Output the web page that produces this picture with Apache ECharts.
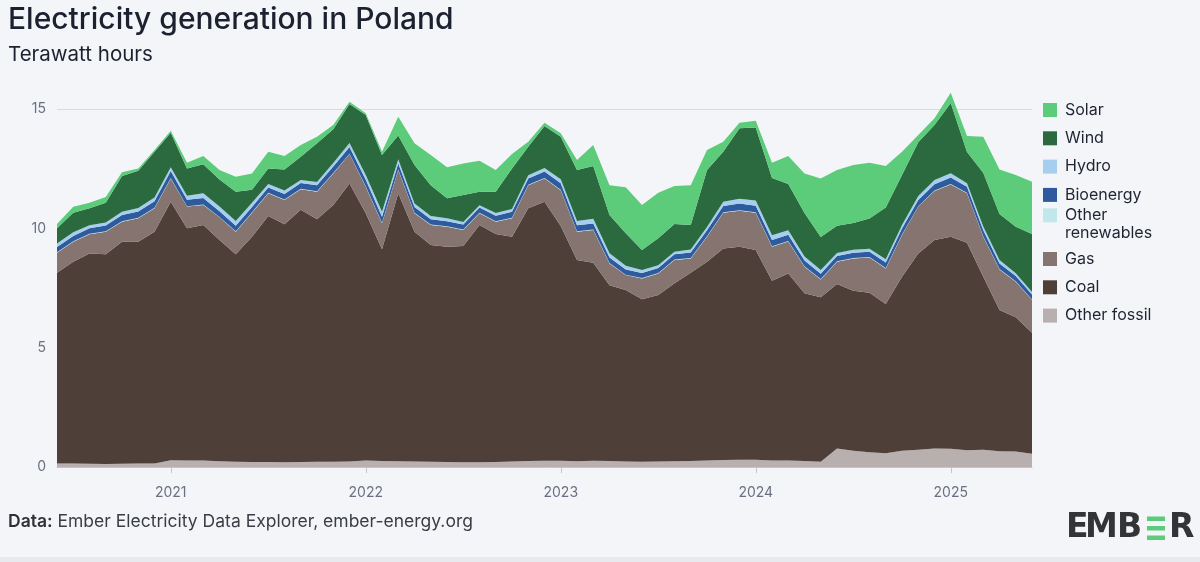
<!DOCTYPE html>
<html>
<head>
<meta charset="utf-8">
<script src="https://cdn.jsdelivr.net/npm/echarts@6/dist/echarts.min.js"></script>
<style>
  html, body { margin: 0; padding: 0; background: #f4f5f9; }
  #chart { width: 1200px; height: 562px; }
</style>
</head>
<body>
<div id="chart"></div>
<script>
// months, Jun 2020 .. Jun 2025
var months = [
  "2020-06","2020-07","2020-08","2020-09","2020-10","2020-11","2020-12",
  "2021-01","2021-02","2021-03","2021-04","2021-05","2021-06","2021-07","2021-08","2021-09","2021-10","2021-11","2021-12",
  "2022-01","2022-02","2022-03","2022-04","2022-05","2022-06","2022-07","2022-08","2022-09","2022-10","2022-11","2022-12",
  "2023-01","2023-02","2023-03","2023-04","2023-05","2023-06","2023-07","2023-08","2023-09","2023-10","2023-11","2023-12",
  "2024-01","2024-02","2024-03","2024-04","2024-05","2024-06","2024-07","2024-08","2024-09","2024-10","2024-11","2024-12",
  "2025-01","2025-02","2025-03","2025-04","2025-05","2025-06"
];

// TWh per month
var otherFossil = [0.15,0.15,0.14,0.13,0.14,0.15,0.15,
  0.28,0.27,0.27,0.24,0.22,0.21,0.21,0.20,0.21,0.22,0.22,0.23,
  0.27,0.25,0.24,0.23,0.22,0.21,0.20,0.20,0.21,0.23,0.25,0.26,
  0.26,0.24,0.26,0.25,0.23,0.22,0.23,0.24,0.25,0.27,0.29,0.30,
  0.30,0.27,0.27,0.25,0.22,0.78,0.68,0.62,0.58,0.68,0.72,0.78,
  0.76,0.70,0.72,0.66,0.65,0.55];
var coal = [7.99,8.45,8.81,8.78,9.30,9.29,9.71,
  10.83,9.73,9.87,9.27,8.69,9.44,10.31,9.97,10.57,10.16,10.76,11.65,
  10.36,8.87,11.23,9.63,9.08,9.02,9.06,9.94,9.55,9.42,10.59,10.85,
  9.84,8.43,8.30,7.37,7.19,6.81,6.98,7.46,7.89,8.33,8.87,8.93,
  8.79,7.53,7.84,7.03,6.89,6.89,6.71,6.68,6.25,7.29,8.23,8.73,
  8.89,8.70,7.25,5.92,5.62,5.08];
var gas = [0.84,0.84,0.80,0.95,0.84,0.98,0.98,
  0.98,0.91,0.84,0.95,0.95,1.00,0.95,1.02,0.86,1.15,1.32,1.23,
  1.11,1.09,0.97,0.77,0.84,0.84,0.67,0.49,0.52,0.77,0.97,0.98,
  1.50,1.19,1.37,0.91,0.62,0.87,0.90,0.97,0.60,1.05,1.49,1.51,
  1.56,1.43,1.34,1.11,0.75,0.93,1.35,1.48,1.49,1.75,1.96,2.05,
  2.19,2.07,1.68,1.70,1.49,1.37];
var otherRenewables = [0.02,0.02,0.02,0.02,0.02,0.02,0.02,
  0.02,0.02,0.02,0.02,0.02,0.02,0.02,0.02,0.02,0.02,0.02,0.02,
  0.02,0.02,0.02,0.02,0.02,0.02,0.02,0.02,0.02,0.02,0.02,0.02,
  0.02,0.02,0.02,0.02,0.02,0.02,0.02,0.02,0.02,0.02,0.02,0.02,
  0.02,0.02,0.02,0.02,0.02,0.02,0.02,0.02,0.02,0.02,0.02,0.02,
  0.02,0.02,0.02,0.02,0.02,0.02];
var bioenergy = [0.22,0.22,0.23,0.24,0.26,0.27,0.28,
  0.29,0.27,0.27,0.24,0.23,0.22,0.22,0.23,0.24,0.26,0.27,0.28,
  0.28,0.26,0.26,0.24,0.22,0.21,0.21,0.22,0.23,0.25,0.26,0.27,
  0.27,0.25,0.25,0.23,0.21,0.21,0.21,0.22,0.23,0.25,0.27,0.28,
  0.28,0.26,0.26,0.24,0.22,0.22,0.22,0.22,0.23,0.25,0.26,0.27,
  0.27,0.25,0.25,0.23,0.22,0.21];
var hydro = [0.14,0.16,0.13,0.12,0.13,0.14,0.15,
  0.16,0.17,0.20,0.19,0.20,0.18,0.15,0.14,0.13,0.13,0.15,0.17,
  0.19,0.20,0.17,0.15,0.14,0.12,0.11,0.10,0.11,0.12,0.13,0.15,
  0.17,0.18,0.20,0.18,0.16,0.12,0.11,0.11,0.12,0.14,0.17,0.20,
  0.22,0.20,0.19,0.17,0.15,0.13,0.12,0.12,0.13,0.15,0.16,0.18,
  0.18,0.15,0.16,0.14,0.12,0.10];
var wind = [0.64,0.81,0.71,0.83,1.50,1.56,1.92,
  1.44,1.14,1.22,1.14,1.22,0.55,0.65,0.89,0.97,1.62,1.41,1.63,
  2.52,2.38,1.00,1.61,1.29,0.84,1.13,0.56,0.89,1.70,1.20,1.76,
  1.78,2.13,2.21,1.60,1.36,0.84,1.13,1.16,1.03,2.38,2.10,2.95,
  3.06,2.40,1.94,1.82,1.39,1.14,1.12,1.27,2.17,2.09,2.26,2.30,
  2.94,1.31,2.25,1.93,1.95,2.43];
var solar = [0.18,0.25,0.23,0.24,0.16,0.10,0.07,
  0.09,0.24,0.34,0.39,0.63,0.68,0.70,0.56,0.49,0.28,0.18,0.09,
  0.07,0.14,0.79,0.91,1.26,1.30,1.32,1.30,0.91,0.60,0.21,0.13,
  0.14,0.42,0.88,1.25,1.93,1.89,1.91,1.59,1.67,0.84,0.42,0.23,
  0.28,0.64,1.17,1.66,2.45,2.33,2.43,2.34,1.74,0.98,0.30,0.28,
  0.43,0.67,1.51,1.87,2.16,2.19];

var yTicks = [0, 5, 10, 15];

var font = "Inter, 'Noto Sans', sans-serif";
var logoFont = "'DejaVu Sans', sans-serif";
var myChart = echarts.init(document.getElementById("chart"));

// stack from bottom to top
var layers = [
  { name: "Other fossil", data: otherFossil, color: "#b8b0ae" },
  { name: "Coal", data: coal, color: "#4f3f39" },
  { name: "Gas", data: gas, color: "#85746f" },
  { name: "Other renewables", data: otherRenewables, color: "#c2e7ea" },
  { name: "Bioenergy", data: bioenergy, color: "#2d5b9e" },
  { name: "Hydro", data: hydro, color: "#a6ceef" },
  { name: "Wind", data: wind, color: "#2b6a3f" },
  { name: "Solar", data: solar, color: "#5ccb7a" }
];

var series = layers.map(function (l) {
  return {
    name: l.name,
    type: "line",
    stack: "total",
    data: l.data,
    showSymbol: false,
    clip: false,
    lineStyle: { width: 0 },
    areaStyle: { color: l.color, opacity: 1 },
    itemStyle: { color: l.color },
    emphasis: { disabled: true }
  };
});

var isJan = function (idx, val) { return val.slice(5) === "01"; };

var legendText = { fontFamily: font, fontSize: 16, color: "#1f2430", lineHeight: 14, padding: [0, 0, 0, 3] };
var legendBase = {
  orient: "vertical",
  left: 1043,
  padding: 0,
  itemWidth: 14,
  itemHeight: 14,
  itemGap: 12.3,
  icon: "rect",
  selectedMode: false,
  textStyle: legendText
};

// one letter of the logo
function logoLetter(ch, x) {
  return {
    type: "text", x: x, y: 13,
    style: { text: ch, fontFamily: logoFont, fontSize: 33, fontWeight: 700, fill: "#333438", verticalAlign: "middle" }
  };
}

var option = {
  backgroundColor: "#f4f5f9",
  animation: false,
  title: [
    {
      text: "Electricity generation in Poland",
      left: 3, top: 0,
      textStyle: { fontFamily: font, fontSize: 30, fontWeight: 500, color: "#1c2130" }
    },
    {
      text: "Terawatt hours",
      left: 3, top: 39,
      textStyle: { fontFamily: font, fontSize: 20.5, fontWeight: 400, color: "#1c2130" }
    }
  ],
  legend: [
    Object.assign({}, legendBase, { top: 102, data: ["Solar", "Wind", "Hydro", "Bioenergy"] }),
    // second line of this entry is drawn as a graphic text below
    Object.assign({}, legendBase, {
      top: 207.3,
      data: ["Other renewables"],
      formatter: function () { return "Other"; }
    }),
    Object.assign({}, legendBase, { top: 251, data: ["Gas", "Coal", "Other fossil"] })
  ],
  grid: { left: 57, right: 168, top: 109, bottom: 95 },
  xAxis: {
    type: "category",
    boundaryGap: false,
    data: months,
    axisLine: { lineStyle: { color: "#c3c6cc", width: 1 } },
    axisTick: { show: true, interval: isJan, length: 6, lineStyle: { color: "#c3c6cc" } },
    axisLabel: {
      interval: isJan,
      formatter: function (v) { return v.slice(0, 4); },
      margin: 19,
      fontFamily: font, fontSize: 14, color: "#6b7080"
    },
    splitLine: { show: false }
  },
  yAxis: {
    type: "value",
    min: yTicks[0],
    max: yTicks[yTicks.length - 1],
    interval: 5,
    axisLine: { show: false },
    axisTick: { show: false },
    axisLabel: { margin: 11, fontFamily: font, fontSize: 14, color: "#6b7080" },
    splitLine: { lineStyle: { color: "#d8dbe2", width: 1 } }
  },
  graphic: [
    {
      type: "text", left: 1065, top: 225,
      style: { text: "renewables", fontFamily: font, fontSize: 16, fill: "#1f2430" }
    },
    {
      type: "text", left: 8, top: 513,
      style: {
        text: "{b|Data:} Ember Electricity Data Explorer, ember-energy.org",
        fontFamily: font, fontSize: 17.5, fill: "#3a3d46",
        rich: { b: { fontFamily: font, fontSize: 17.5, fontWeight: 600, fill: "#2e3038" } }
      }
    },
    {
      type: "group", left: 1066, top: 512,
      children: [
        logoLetter("E", 0),
        logoLetter("M", 19),
        logoLetter("B", 51),
        { type: "rect", shape: { x: 81, y: 1, width: 18, height: 4.5 }, style: { fill: "#5ccb7a" } },
        { type: "rect", shape: { x: 81, y: 10.5, width: 18, height: 4.5 }, style: { fill: "#5ccb7a" } },
        { type: "rect", shape: { x: 81, y: 20, width: 18, height: 4.5 }, style: { fill: "#5ccb7a" } },
        logoLetter("R", 103)
      ]
    },
    {
      type: "rect", left: 0, top: 557,
      shape: { width: 1200, height: 5 },
      style: { fill: "#e7e9ee" }
    }
  ],
  series: series
};

myChart.setOption(option);
window.addEventListener("resize", function () {
  myChart.resize();
});
</script>
</body>
</html>
